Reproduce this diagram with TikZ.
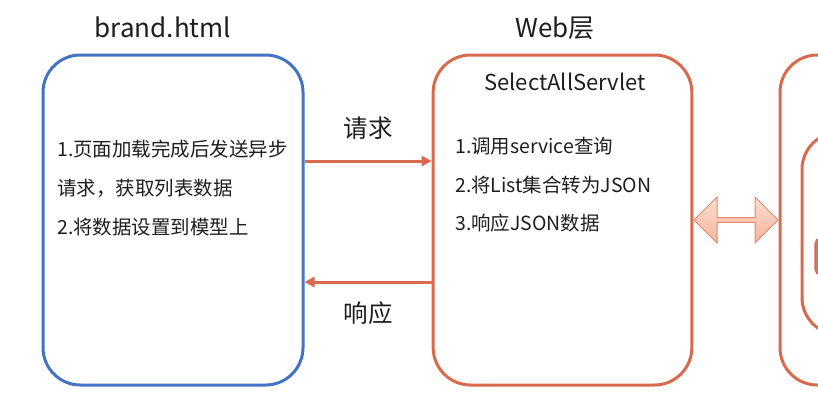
\documentclass[tikz,border=0pt]{standalone}
\usepackage{fontspec}
\setmainfont{Noto Sans CJK SC}
\usetikzlibrary{arrows.meta,shapes.arrows,positioning}
\definecolor{boxblue}{RGB}{68,114,196}
\definecolor{boxred}{RGB}{218,106,78}
\definecolor{arrowtop}{RGB}{253,222,208}
\definecolor{arrowbot}{RGB}{246,180,154}
\definecolor{arrowline}{RGB}{226,138,110}
\definecolor{textgray}{RGB}{30,30,30}
\begin{document}
\begin{tikzpicture}[x=0.75pt,y=-0.75pt,
  layer box/.style={draw,rounded corners=28pt,line width=2.25pt,inner sep=0pt},
  flow/.style={draw=boxred,line width=2.25pt,-{Triangle[length=7.5pt,width=7.5pt]}},
  title/.style={font=\fontsize{19.5}{23}\selectfont,text=textgray},
  lbl/.style={font=\fontsize{18.4}{22}\selectfont,text=textgray},
  body/.style={font=\fontsize{14.6}{29}\selectfont,text=textgray,align=left,anchor=west,inner sep=0pt}]
\clip (0,0) rectangle (818,407);
\begin{scope}
\node[layer box,draw=boxblue,minimum width=195pt,minimum height=247.5pt] (brand) at (173,220) {};
\node[layer box,draw=boxred,minimum width=194pt,minimum height=247.5pt] (web) at (562.5,220) {};
\node[layer box,draw=boxred,minimum width=195pt,minimum height=247.5pt] (svc) at (910,220) {};
\node[layer box,draw=boxred,minimum width=165pt,minimum height=152pt] (dao) at (912,233.5) {};
\node[draw=boxred,fill={rgb,255:red,206;green,122;blue,106},line width=1.5pt,rounded corners=4pt,minimum width=22pt,minimum height=27pt] (tbl) at (830,256.5) {};
\node[double arrow,draw=arrowline,line width=0.75pt,top color=arrowtop,bottom color=arrowbot,inner sep=0pt,
  minimum width=34.5pt,minimum height=63pt,double arrow head extend=3.3pt] (link) at (736,220) {};
\end{scope}
\begin{scope}
\node[title] (brandtitle) at (163,27) {brand.html};
\node[title] (webtitle) at (555,28) {Web层};
\node[title,font=\fontsize{16.5}{20}\selectfont] (servlet) at (565,82) {SelectAllServlet};
\node[body] (brandtext) at (57,188) {1.页面加载完成后发送异步\\请求，获取列表数据\\2.将数据设置到模型上};
\node[body] (webtext) at (455,185) {1.调用service查询\\2.将List集合转为JSON\\3.响应JSON数据};
%\node[body] (x) at (,) {};
\end{scope}
\begin{scope}
\draw[flow] ([yshift=44.25pt]brand.east) -- node[lbl,yshift=24.75pt]{请求} ([yshift=44.25pt]web.west);
\draw[flow] ([yshift=-46.5pt]web.west) -- node[lbl,yshift=-23.25pt]{响应} ([yshift=-46.5pt]brand.east);
\end{scope}
\end{tikzpicture}
\end{document}
